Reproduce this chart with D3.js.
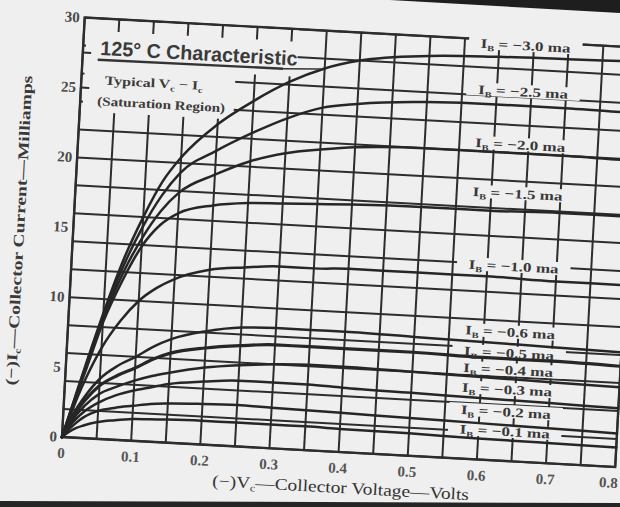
<!DOCTYPE html>
<html>
<head>
<meta charset="utf-8">
<script src="https://cdn.jsdelivr.net/npm/d3@7"></script>
<style>
  body { margin: 0; background: #eeeeee; }
  svg { display: block; }
</style>
</head>
<body>
<script>
// collector voltage samples (V) and collector current (mA) for each base current
const voltage = [0, 0.01, 0.02, 0.03, 0.05, 0.075, 0.1, 0.125, 0.15, 0.2, 0.25, 0.3, 0.35, 0.4, 0.5, 0.6, 0.7, 0.8];
const ib30 = [0, 1.8, 3.7, 5.5, 9.0, 12.9, 16.0, 18.6, 20.4, 22.9, 24.7, 26.2, 27.3, 28.0, 28.6, 28.8, 28.9, 29.0];
const ib25 = [0, 1.8, 3.6, 5.4, 8.8, 12.4, 15.3, 17.6, 19.3, 21.0, 22.4, 23.6, 24.5, 24.9, 25.3, 25.4, 25.4, 25.3];
const ib20 = [0, 1.8, 3.5, 5.2, 8.5, 11.9, 14.5, 16.5, 17.9, 19.3, 20.4, 21.1, 21.5, 21.8, 22.0, 22.0, 22.0, 21.9];
const ib15 = [0, 1.7, 3.4, 5.0, 8.3, 11.4, 13.9, 15.5, 16.4, 17.1, 17.4, 17.5, 17.6, 17.7, 17.8, 17.8, 17.9, 17.9];
const ib10 = [0, 1.5, 3.0, 4.3, 6.5, 8.5, 10.0, 11.0, 11.7, 12.5, 12.8, 13.0, 13.0, 13.1, 13.1, 13.1, 13.0, 13.0];
const ib06 = [0, 1.2, 2.2, 3.0, 4.3, 5.3, 6.0, 6.8, 7.4, 8.1, 8.5, 8.6, 8.6, 8.6, 8.5, 8.4, 8.3, 8.2];
const ib05 = [0, 1.1, 2.0, 2.7, 3.8, 4.6, 5.2, 5.9, 6.4, 6.9, 7.2, 7.4, 7.4, 7.4, 7.4, 7.3, 7.3, 7.2];
const ib04 = [0, 0.9, 1.7, 2.3, 3.2, 3.8, 4.3, 4.7, 5.0, 5.5, 5.8, 6.0, 6.1, 6.1, 6.0, 5.9, 5.8, 5.7];
const ib03 = [0, 0.8, 1.4, 1.9, 2.6, 3.2, 3.6, 3.9, 4.2, 4.5, 4.7, 4.7, 4.7, 4.6, 4.5, 4.4, 4.3, 4.2];
const ib02 = [0, 0.6, 1.1, 1.5, 2.0, 2.3, 2.5, 2.7, 2.8, 2.9, 2.95, 2.9, 2.85, 2.8, 2.7, 2.6, 2.5, 2.4];
const ib01 = [0, 0.4, 0.7, 0.9, 1.2, 1.4, 1.55, 1.6, 1.65, 1.7, 1.7, 1.7, 1.7, 1.65, 1.6, 1.5, 1.45, 1.4];

const baseLabels = ["−3.0", "−2.5", "−2.0", "−1.5", "−1.0", "−0.6", "−0.5", "−0.4", "−0.3", "−0.2", "−0.1"];
// current level (mA) at which each label sits on the right
const labelLevels = [29.7, 26.4, 22.6, 19.1, 13.9, 9.2, 7.7, 6.5, 5.1, 3.5, 2.1];

const xTickValues = [0, 0.1, 0.2, 0.3, 0.4, 0.5, 0.6, 0.7, 0.8];
const xTickLabels = ["0", "0.1", "0.2", "0.3", "0.4", "0.5", "0.6", "0.7", "0.8"];
const yTickValues = [0, 5, 10, 15, 20, 25, 30];

const series = [ib30, ib25, ib20, ib15, ib10, ib06, ib05, ib04, ib03, ib02, ib01];

const W = 620, H = 507;
const pw = 554, ph = 420;
const ink = "#2d2d2d";
const serif = "'Liberation Serif', 'DejaVu Serif', serif";

const svg = d3.select("body").append("svg")
  .attr("width", W)
  .attr("height", H);

// paper and the dark edges of the photo
svg.append("rect").attr("width", W).attr("height", H).attr("fill", "#efefef");
svg.append("path").attr("d", "M390,0 L620,0 L620,13 Z").attr("fill", "#1e1e1e");
svg.append("path").attr("d", "M0,501 L620,503 L620,507 L0,507 Z").attr("fill", "#252525");

// the sheet is photographed slightly turned
const g = svg.append("g")
  .attr("transform", "translate(62,437) rotate(3.1) translate(0," + (-ph) + ")");

const x = d3.scaleLinear().domain([0, 0.8]).range([0, pw]);
const y = d3.scaleLinear().domain([0, 30]).range([ph, 0]);

// grid every 0.05 V and 2.5 mA
g.append("g").selectAll("line")
  .data(x.ticks(16))
  .enter().append("line")
  .attr("x1", d => x(d)).attr("x2", d => x(d))
  .attr("y1", y(0)).attr("y2", y(30))
  .attr("stroke", ink).attr("stroke-width", 2);
g.append("g").selectAll("line")
  .data(y.ticks(12))
  .enter().append("line")
  .attr("x1", x(0)).attr("x2", x(0.8))
  .attr("y1", d => y(d)).attr("y2", d => y(d))
  .attr("stroke", ink).attr("stroke-width", 2);
g.append("rect")
  .attr("x", x(0)).attr("y", y(30))
  .attr("width", x(0.8) - x(0)).attr("height", y(0) - y(30))
  .attr("fill", "none").attr("stroke", ink).attr("stroke-width", 2.4);

// blank space for the title block
g.append("path")
  .attr("d", "M" + x(0.004) + "," + y(29.9) +
    " L" + x(0.31) + "," + y(29.9) +
    " L" + x(0.31) + "," + y(26.6) +
    " L" + x(0.222) + "," + y(26.6) +
    " L" + x(0.222) + "," + y(23.3) +
    " L" + x(0.004) + "," + y(23.3) + " Z")
  .attr("fill", "#efefef");

// short ticks left inside the blank block
g.append("g").selectAll("line")
  .data([0.05, 0.1, 0.15, 0.2, 0.25, 0.3])
  .enter().append("line")
  .attr("x1", d => x(d)).attr("x2", d => x(d))
  .attr("y1", y(30)).attr("y2", y(29.1))
  .attr("stroke", ink).attr("stroke-width", 2);
g.append("g").selectAll("line")
  .data([25, 27.5])
  .enter().append("line")
  .attr("x1", x(0)).attr("x2", x(0.012))
  .attr("y1", d => y(d)).attr("y2", d => y(d))
  .attr("stroke", ink).attr("stroke-width", 2);

// blank space behind the curve labels
g.append("g").selectAll("rect")
  .data(labelLevels)
  .enter().append("rect")
  .attr("x", x(0.556)).attr("width", x(0.72) - x(0.556))
  .attr("y", d => y(d) - 7).attr("height", 13)
  .attr("fill", "#efefef");

// characteristic curves
const line = d3.line()
  .x(d => x(d[0]))
  .y(d => y(d[1]))
  .curve(d3.curveMonotoneX);

g.append("g").selectAll("path")
  .data(series)
  .enter().append("path")
  .attr("d", d => line(voltage.map((v, i) => [v, d[i]])))
  .attr("fill", "none")
  .attr("stroke", "#262626")
  .attr("stroke-width", (d, i) => i === 6 ? 3.2 : 2.5)
  .attr("stroke-linecap", "round");

// title underline running out to the top curve
g.append("line")
  .attr("x1", x(0.022)).attr("x2", x(0.29))
  .attr("y1", y(27.05)).attr("y2", y(27.12))
  .attr("stroke", "#333").attr("stroke-width", 2.4);
g.append("line")
  .attr("x1", x(0.29)).attr("x2", x(0.345))
  .attr("y1", y(27.12)).attr("y2", y(27.25))
  .attr("stroke", "#333").attr("stroke-width", 1.6);

g.append("text")
  .attr("x", x(0.025)).attr("y", y(27.4))
  .attr("textLength", x(0.31) - x(0.025))
  .attr("lengthAdjust", "spacingAndGlyphs")
  .style("font-family", "'Liberation Sans', Arial, sans-serif")
  .style("font-weight", "bold")
  .style("font-size", "20px")
  .style("fill", "#3a3a3a")
  .text("125° C Characteristic");

const typ = g.append("text")
  .attr("x", x(0.034)).attr("y", y(25.3))
  .attr("textLength", 98)
  .attr("lengthAdjust", "spacingAndGlyphs")
  .style("font-family", serif)
  .style("font-weight", "bold")
  .style("font-size", "12.5px")
  .style("fill", "#3a3a3a");
typ.append("tspan").text("Typical V");
typ.append("tspan").attr("dy", 3).style("font-size", "8px").text("c");
typ.append("tspan").attr("dy", -3).text(" − I");
typ.append("tspan").attr("dy", 3).style("font-size", "8px").text("c");

g.append("text")
  .attr("x", x(0.0246)).attr("y", y(23.8))
  .attr("textLength", 128)
  .attr("lengthAdjust", "spacingAndGlyphs")
  .style("font-family", serif)
  .style("font-weight", "bold")
  .style("font-size", "12.5px")
  .style("fill", "#3a3a3a")
  .text("(Saturation Region)");

// curve labels
const lab = g.append("g").selectAll("text")
  .data(baseLabels)
  .enter().append("text")
  .attr("x", x(0.638))
  .attr("y", (d, i) => y(labelLevels[i]) + 4.5)
  .attr("text-anchor", "middle")
  .attr("textLength", 90)
  .attr("lengthAdjust", "spacingAndGlyphs")
  .style("font-family", serif)
  .style("font-weight", "bold")
  .style("font-size", "13px")
  .style("fill", "#383838");
lab.append("tspan").text("I");
lab.append("tspan").attr("dy", 3).style("font-size", "8px").text("B");
lab.append("tspan").attr("dy", -3).text(d => "  =  " + d + " ma");

// tick labels
g.append("g").selectAll("text")
  .data(yTickValues)
  .enter().append("text")
  .attr("x", -5)
  .attr("y", d => y(d) + 5)
  .attr("text-anchor", "end")
  .style("font-family", serif)
  .style("font-weight", "bold")
  .style("font-size", "15px")
  .style("fill", "#4a4a4a")
  .text(d => d);

g.append("g").selectAll("text")
  .data(xTickValues)
  .enter().append("text")
  .attr("x", (d, i) => x(d) - (i === xTickValues.length - 1 ? 6 : 0))
  .attr("y", ph + 21)
  .attr("text-anchor", "middle")
  .style("font-family", serif)
  .style("font-weight", "bold")
  .style("font-size", "15px")
  .style("fill", "#555")
  .text((d, i) => xTickLabels[i]);

// axis titles
const yt = g.append("text")
  .attr("transform", "translate(-49,216) rotate(-90)")
  .attr("text-anchor", "middle")
  .attr("textLength", 310)
  .attr("lengthAdjust", "spacingAndGlyphs")
  .style("font-family", serif)
  .style("font-weight", "bold")
  .style("font-size", "15px")
  .style("fill", "#3a3a3a");
yt.append("tspan").text("(−)I");
yt.append("tspan").attr("dy", 3).style("font-size", "9px").text("c");
yt.append("tspan").attr("dy", -3).text("—Collector Current—Milliamps");

const xt = g.append("text")
  .attr("x", 281).attr("y", 461)
  .attr("text-anchor", "middle")
  .attr("textLength", 257)
  .attr("lengthAdjust", "spacingAndGlyphs")
  .style("font-family", serif)
  .style("font-size", "16.5px")
  .style("fill", "#333");
xt.append("tspan").text("(−)V");
xt.append("tspan").attr("dy", 3).style("font-size", "10px").text("c");
xt.append("tspan").attr("dy", -3).text("—Collector Voltage—Volts");
</script>
</body>
</html>
